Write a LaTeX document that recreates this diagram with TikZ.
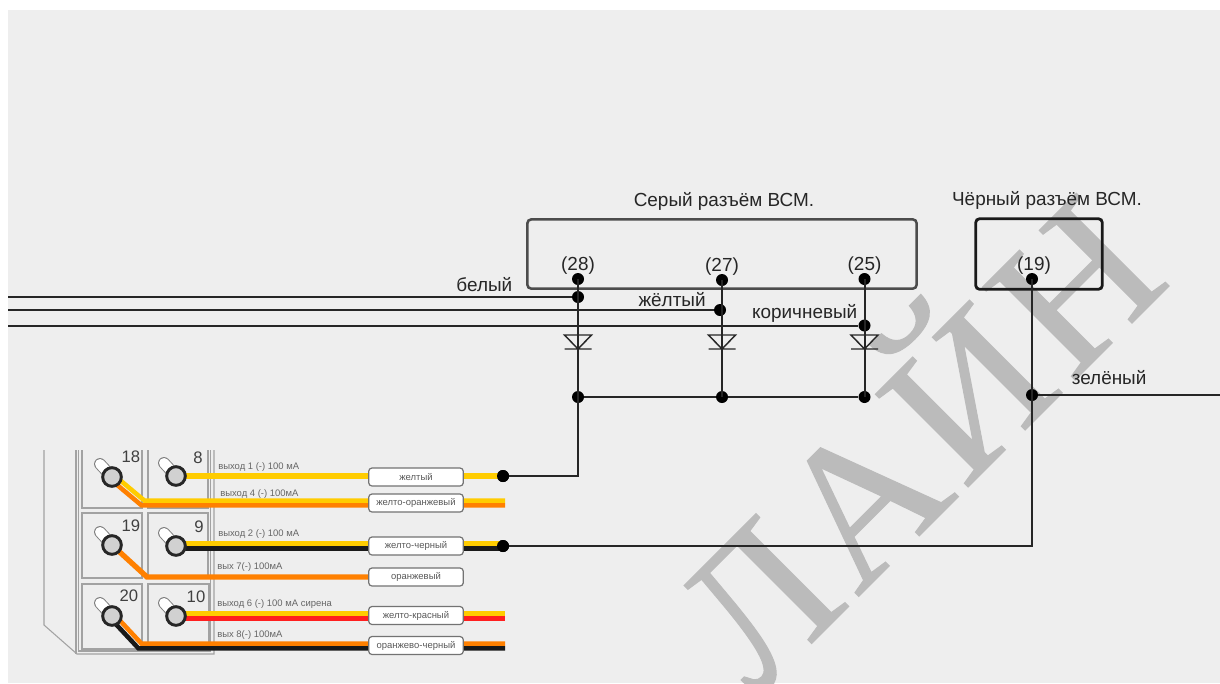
\documentclass[tikz,border=0pt]{standalone}
\usepackage{fontspec}
\setmainfont{Liberation Sans}
\newfontfamily\markfont[FakeBold=0.6]{Liberation Serif}
\usetikzlibrary{positioning}

\definecolor{bggray}{HTML}{EEEEEE}
\definecolor{markgray}{HTML}{BBBBBB}
\definecolor{panelgray}{HTML}{A2A2A2}
\definecolor{wireyellow}{HTML}{FFCC00}
\definecolor{wireorange}{HTML}{FF8000}
\definecolor{wirered}{HTML}{FF1F1F}

\begin{document}
\begin{tikzpicture}[x=0.75pt,y=-0.75pt,
	dot/.style={circle,fill=black,inner sep=0pt,minimum size=9pt},
	wire/.style={draw=black!85,line width=1.5pt},
	label/.style={inner sep=0pt,text=black!85,font=\fontsize{14.2}{15}\selectfont},
	num/.style={inner sep=0pt,text=black!75,font=\fontsize{12.5}{13}\selectfont},
	tiny/.style={inner sep=0pt,anchor=west,text=black!60,font=\fontsize{7.1}{8}\selectfont},
	tag/.style={draw=black!55,fill=white,rounded corners=2.5pt,line width=0.9pt,inner sep=0pt,
		minimum width=71pt,minimum height=13.5pt,text=black!65,font=\fontsize{7.1}{8}\selectfont},
	cell/.style={draw=panelgray,line width=0.8pt},
	pill/.style={draw=black!50,double=white,double distance=7.5pt,line width=0.7pt,line cap=round},
	ring/.style={circle,draw=black!85,fill=black!18,line width=2.2pt,inner sep=0pt,minimum size=14pt},
	cable/.style={line width=3.4pt},
	diode/.style={draw=black!85,line width=1.1pt}
	]
	\useasboundingbox (0,0) rectangle (1220,683);
	\fill[bggray] (8,10) rectangle (1220,683);

	% watermark
	\node[rotate=45,anchor=base,inner sep=0pt,text=markgray,font=\markfont\fontsize{150}{150}\selectfont] (mark) at (965,490) {Л\kern5ptА\kern5ptЙ\kern5ptН};

	% connectors
	\node[draw=black!70,line width=1.9pt,rounded corners=3pt,inner sep=0pt,minimum width=292pt,minimum height=52pt] (grey) at (722,254) {};
	\node[draw=black!90,line width=2.1pt,rounded corners=3pt,inner sep=0pt,minimum width=95pt,minimum height=53pt] (dark) at (1039,254) {};
	\node[label] (greytitle) at (724,201) {Серый разъём ВСМ.};
	\node[label] (darktitle) at (1047,200) {Чёрный разъём ВСМ.};

	\node[dot] (p28) at (578,279) {};
	\node[dot] (p27) at (722,280) {};
	\node[dot] (p25) at (864.5,279) {};
	\node[dot] (p19) at (1032,279) {};
	\node[label,above=-1.5pt of p28] {(28)};
	\node[label,above=-1.5pt of p27] {(27)};
	\node[label,above=-1.5pt of p25] {(25)};
	\node[label,above=-1.5pt of p19,xshift=1.5pt] {(19)};

	\node[dot] (n28) at (578,297) {};
	\node[dot] (n27) at (720,310) {};
	\node[dot] (n25) at (864.5,325.5) {};
	\node[dot] (b28) at (578,397) {};
	\node[dot] (b27) at (722,397) {};
	\node[dot] (b25) at (864.5,397) {};
	\node[dot] (b19) at (1032,395) {};
	\node[dot] (j8) at (503,476) {};
	\node[dot] (j9) at (503,546) {};

	\coordinate (w1) at (8,297);
	\coordinate (w2) at (8,310);
	\coordinate (w3) at (8,325.5);
	\coordinate (w4) at (1220,395);
	\coordinate (k8) at (578,476);
	\coordinate (k9) at (1032,546);

	\draw[wire] (w1) --node[above=3pt,pos=0.845,label]{белый} (n28);
	\draw[wire] (w2) --node[above=1.5pt,pos=0.941,label]{жёлтый} (n27);
	\draw[wire] (w3) --node[above=1.5pt,pos=0.937,label]{коричневый} (n25);
	\draw[wire] (b19) --node[above=7pt,pos=0.39,label]{зелёный} (w4);
	\draw[wire] (p28.center) -- (b28.center) -- (k8) -- (j8);
	\draw[wire] (p27.center) -- (b27.center);
	\draw[wire] (p25.center) -- (b25.center);
	\draw[wire] (p19.center) -- (k9) -- (j9);
	\draw[wire] (b28) -- (b27) -- (b25);

	\coordinate (d28) at (578,342);
	\coordinate (d27) at (722,342);
	\coordinate (d25) at (864.5,342);
	\draw[diode] (d28) ++(-13.5,-7) -- ++(27,0) -- ++(-13.5,14) -- cycle ++(0,14) -- ++(27,0);
	\draw[diode] (d27) ++(-13.5,-7) -- ++(27,0) -- ++(-13.5,14) -- cycle ++(0,14) -- ++(27,0);
	\draw[diode] (d25) ++(-13.5,-7) -- ++(27,0) -- ++(-13.5,14) -- cycle ++(0,14) -- ++(27,0);

	% panel
	\draw[cell] (44,450) -- (44,625) -- (77,654) -- (214,654) -- (214,450);
	\draw[cell] (76,450) -- (76,654);
	\draw[cell] (78.5,450) -- (78.5,651) -- (210.5,651) -- (210.5,450);
	\draw[cell] (82,450) -- (82,508) -- (142,508) -- (142,450);
	\draw[cell] (148,450) -- (148,508) -- (208,508) -- (208,450);
	\draw[cell] (82,513) rectangle (142,578);
	\draw[cell] (148,513) rectangle (208,578);
	\draw[cell] (82,584) rectangle (142,649);
	\draw[cell] (148,584) rectangle (209,649);

	\node[num] (l18) at (131,457) {18};
	\node[num] (l8) at (198,458) {8};
	\node[num] (l19) at (131,526) {19};
	\node[num] (l9) at (199,527) {9};
	\node[num] (l20) at (129,596) {20};
	\node[num] (l10) at (196,597) {10};

	\coordinate (c18) at (112,477);
	\coordinate (c8) at (176,476);
	\coordinate (c19) at (112,545);
	\coordinate (c9) at (176,546);
	\coordinate (c20) at (112,616);
	\coordinate (c10) at (176,616);
	\coordinate (a18) at (143,503);
	\coordinate (a19) at (147,577);
	\coordinate (a20) at (140,646);
	\coordinate (e18) at (505,503);
	\coordinate (e19) at (370,577);
	\coordinate (e20) at (505,646);
	\coordinate (e10) at (505,616);

	\draw[pill] (c18) -- ++(-12,-13);
	\draw[pill] (c8) -- ++(-12,-13);
	\draw[pill] (c19) -- ++(-12,-13);
	\draw[pill] (c9) -- ++(-12,-13);
	\draw[pill] (c20) -- ++(-12,-13);
	\draw[pill] (c10) -- ++(-12,-13);

	% cables
	\draw[cable,wireyellow,line width=4.5pt] (c8) -- (j8.center);
	\draw[cable,wireyellow] ([xshift=1.2pt,yshift=1.7pt]c18) -- ([xshift=1.2pt,yshift=1.7pt]a18) -- ([yshift=1.7pt]e18);
	\draw[cable,wireorange] ([xshift=-1.2pt,yshift=-1.7pt]c18) -- ([xshift=-1.2pt,yshift=-1.7pt]a18) -- ([yshift=-1.7pt]e18);
	\draw[cable,wireyellow] ([yshift=1.7pt]c9) -- ([yshift=1.7pt]j9.center);
	\draw[cable,black!90] ([yshift=-1.7pt]c9) -- ([yshift=-1.7pt]j9.center);
	\draw[cable,wireorange,line width=4pt] (c19) -- (a19) -- (e19);
	\draw[cable,wireyellow] ([yshift=1.7pt]c10) -- ([yshift=1.7pt]e10);
	\draw[cable,wirered] ([yshift=-1.7pt]c10) -- ([yshift=-1.7pt]e10);
	\draw[cable,wireorange] ([xshift=1.2pt,yshift=1.7pt]c20) -- ([xshift=1.2pt,yshift=1.7pt]a20) -- ([yshift=1.7pt]e20);
	\draw[cable,black!90] ([xshift=-1.2pt,yshift=-1.7pt]c20) -- ([xshift=-1.2pt,yshift=-1.7pt]a20) -- ([yshift=-1.7pt]e20);

	\node[ring] (t18) at (c18) {};
	\node[ring] (t8) at (c8) {};
	\node[ring] (t19) at (c19) {};
	\node[ring] (t9) at (c9) {};
	\node[ring] (t20) at (c20) {};
	\node[ring] (t10) at (c10) {};

	% outputs
	\node[tiny] (o1) at (218,467) {выход 1 (-) 100 мА};
	\node[tiny] (o4) at (220,494) {выход 4 (-) 100мА};
	\node[tiny] (o2) at (218,534) {выход 2 (-) 100 мА};
	\node[tiny] (o7) at (217,567) {вых 7(-) 100мА};
	\node[tiny] (o6) at (217,604) {выход 6 (-) 100 мА сирена};
	\node[tiny] (o8) at (217,635) {вых 8(-) 100мА};

	\node[tag] (g1) at (416,477) {желтый};
	\node[tag] (g4) at (416,503) {желто-оранжевый};
	\node[tag] (g2) at (416,546) {желто-черный};
	\node[tag] (g7) at (416,577) {оранжевый};
	\node[tag] (g6) at (416,615.5) {желто-красный};
	\node[tag] (g8) at (416,645.5) {оранжево-черный};

	\node[dot] at (j8) {};
	\node[dot] at (j9) {};
\end{tikzpicture}
\end{document}
